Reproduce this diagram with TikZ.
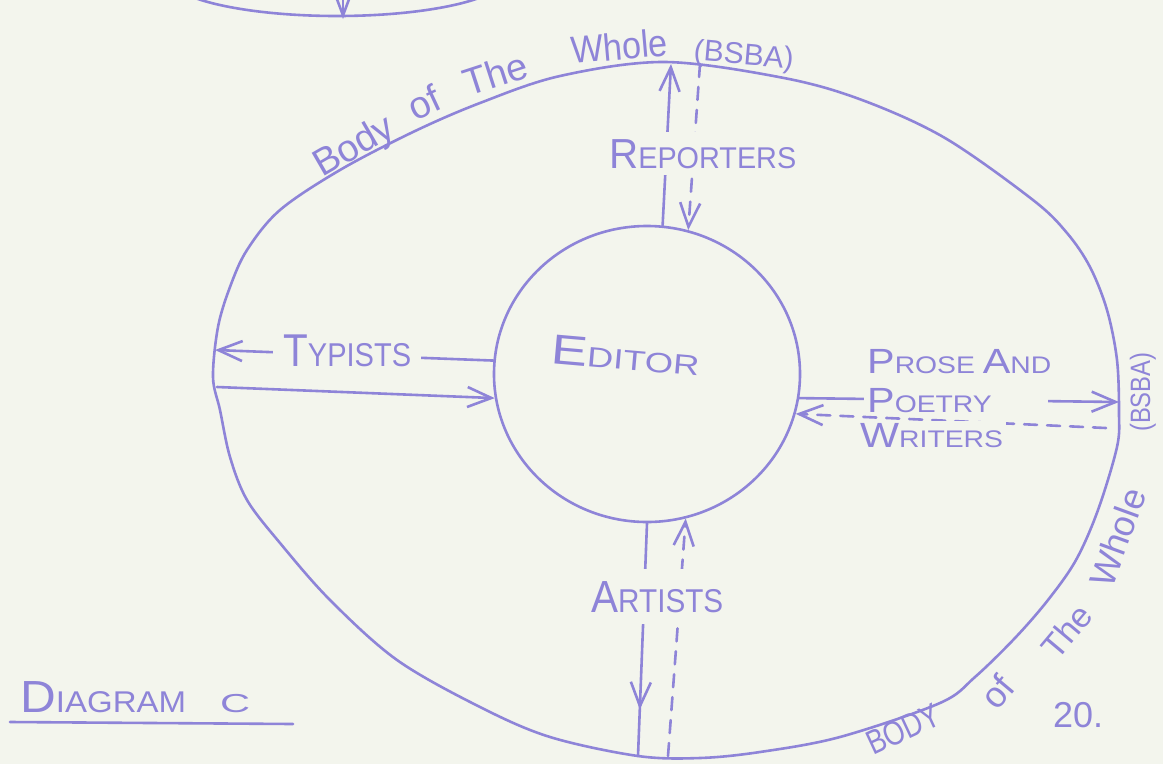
\documentclass[tikz,border=0pt]{standalone}
\usepackage{fontspec}
\setmainfont{Liberation Sans}
\usepackage{graphicx}
\usetikzlibrary{arrows.meta,shapes.geometric,decorations.markings}
\definecolor{pen}{RGB}{142,132,216}
\definecolor{paper}{RGB}{243,245,237}
\newcommand{\hw}[4]{{\fontsize{#3}{#3}\selectfont #1}{\fontsize{#4}{#4}\selectfont #2}}
\newcommand{\fs}[1]{\fontsize{#1}{#1}\selectfont}
\tikzset{
  ink/.style={draw=pen, line width=2.6pt, line cap=round, line join=round},
  arrowend/.style={-{Straight Barb[length=24pt,width=20pt]}},
  dashline/.style={dash pattern=on 13pt off 10pt},
  midarrow/.style={decoration={markings, mark=at position 0.8 with {\arrow{Straight Barb[length=24pt,width=20pt]}}}, postaction={decorate}},
  lbl/.style={text=pen, fill=paper, inner sep=4pt},
  plain/.style={text=pen, inner sep=0pt},
  curvetext/.style={text=pen, inner sep=0pt, anchor=base west}
}
\begin{document}
\begin{tikzpicture}[x=1pt,y=-1pt]
\fill[paper] (0,0) rectangle (1163,764);
\useasboundingbox (0,0) rectangle (1163,764);

% partial shape at the top edge
\begin{scope}
\clip (0,0) rectangle (1163,764);
\draw[ink] (337,-24) ellipse [x radius=170, y radius=40];
\coordinate (topA) at (343,-6);
\coordinate (topB) at (343,19);
\draw[ink, -{Straight Barb[length=16pt,width=12pt]}] (topA) -- (topB);
\end{scope}

% outer body
\draw[ink] plot[smooth cycle, tension=0.55] coordinates {(665,62) (784,78) (862,100) (945,138) (1033,200) (1067,233) (1090,267) (1107,310) (1117,360) (1119,413) (1117,447) (1098,510) (1076,560) (1048,600) (1015,638) (975,677) (940,703) (840,737) (760,752) (700,758) (638,756) (550,737) (480,707) (397,660) (330,600) (280,543) (247,500) (230,457) (220,410) (213,377) (218,327) (230,287) (247,250) (280,210) (340,170) (413,132) (480,103) (560,76)};

% editor circle
\node[ellipse, ink, minimum width=306pt, minimum height=296pt, inner sep=0pt] (editor) at (647,374) {};
\node[plain, anchor=base west, rotate=-5] (edtext) at (550,363) {\scalebox{1.3}[1]{\hw{E}{DITOR}{42}{28}}};

% outer end points
\coordinate (repOut) at (671,64);
\coordinate (repOutD) at (700,64);
\coordinate (typOut) at (215,350);
\coordinate (typOutL) at (217,387);
\coordinate (proOut) at (1119,402);
\coordinate (proOutD) at (1106,428);
\coordinate (artOut) at (638,756);
\coordinate (artOutD) at (668,756);

% connectors
\draw[ink, arrowend] (editor.84) -- (repOut);
\draw[ink, dashline, arrowend] (repOutD) -- (editor.74);
\draw[ink, arrowend] (editor.175) -- (typOut);
\draw[ink, arrowend] (typOutL) -- (editor.189);
\draw[ink, arrowend] (editor.351) -- (proOut);
\draw[ink, dashline, arrowend] (proOutD) -- (editor.345);
\draw[ink, midarrow] (editor.270) -- (artOut);
\draw[ink, dashline, arrowend] (artOutD) -- (editor.285);

% labels
\node[lbl, anchor=base west, inner ysep=7pt] (reporters) at (605,168) {\scalebox{0.96}[1]{\hw{R}{EPORTERS}{42}{30}}};
\node[lbl, anchor=base west, inner xsep=10pt] (typists) at (273,366) {\scalebox{0.88}[1]{\hw{T}{YPISTS}{46}{33}}};
\node[lbl, anchor=base west, inner xsep=3pt] (prose) at (864,373) {\scalebox{1.18}[1]{\hw{P}{ROSE }{35}{24}\hw{A}{ND}{35}{24}}};
\node[lbl, anchor=base west, inner xsep=3pt, inner ysep=2pt, text width=178pt, align=left] (poetry) at (864,412) {\scalebox{1.18}[1]{\hw{P}{OETRY}{35}{24}}};
\node[lbl, anchor=base west, inner xsep=3pt, inner ysep=2pt] (writers) at (857,447) {\scalebox{1.18}[1]{\hw{W}{RITERS}{35}{24}}};
\node[lbl, anchor=base west, inner ysep=12pt] (artists) at (587,612) {\scalebox{0.9}[1]{\hw{A}{RTISTS}{45}{33}}};

% body of the whole, top left
\node[curvetext, rotate=30] (tw1) at (322,178) {\fs{38}Body};
\node[curvetext, rotate=25] (tw2) at (415,122) {\fs{38}of};
\node[curvetext, rotate=18] (tw3) at (468,97) {\fs{38}The};
\node[curvetext, rotate=5] (tw4) at (572,64) {\scalebox{0.9}[1]{\fs{38}Whole}};
\node[curvetext, rotate=-5] (tw5) at (693,60) {\fs{30}(BSBA)};

% body of the whole, bottom right
\node[curvetext, rotate=25] (bw1) at (873,756) {\scalebox{0.8}[1]{\fs{34}BODY}};
\node[curvetext, rotate=50] (bw2) at (997,712) {\fs{36}of};
\node[curvetext, rotate=50] (bw3) at (1057,662) {\fs{34}The};
\node[curvetext, rotate=70] (bw4) at (1112,590) {\fs{36}Whole};
\node[curvetext, rotate=90] (bw5) at (1150,432) {\scalebox{0.85}[1]{\fs{28}(BSBA)}};

% caption and page number
\node[plain, anchor=base west] (diagc) at (20,712) {\scalebox{1.1}[1]{\hw{D}{IAGRAM}{45}{30}}\hspace{34pt}\scalebox{1.6}[1]{\fs{26}C}};
\draw[ink] (10,722) -- (293,724);
\node[plain, anchor=base west] (pagenum) at (1053,727) {\fs{36}20.};
\end{tikzpicture}
\end{document}
